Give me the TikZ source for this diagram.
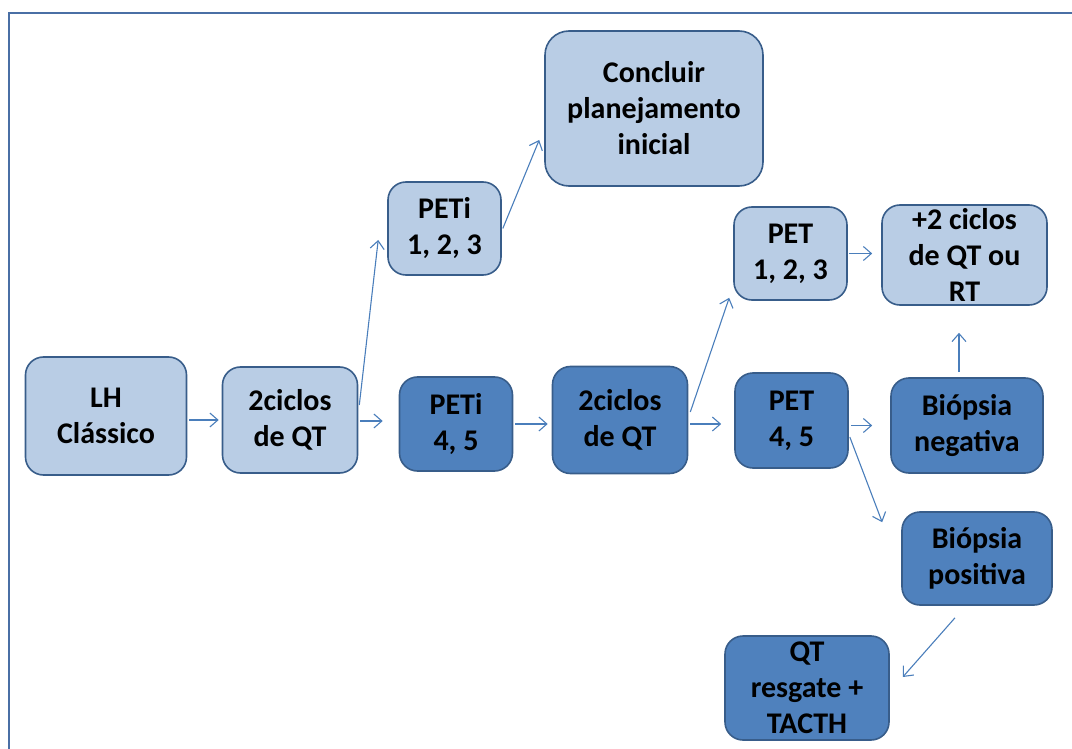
\documentclass[tikz,border=0pt]{standalone}
\usepackage{fontspec}
\setmainfont{Carlito}
\usetikzlibrary{arrows.meta}
\definecolor{lightfill}{HTML}{B9CDE5}
\definecolor{darkfill}{HTML}{4F81BD}
\definecolor{boxline}{HTML}{385D8A}
\definecolor{arrcol}{HTML}{4A7EBB}
\definecolor{framecol}{HTML}{4A6FA5}
\tikzset{
  boxbase/.style={draw=boxline, line width=1.6pt, rounded corners=18pt, inner sep=0pt,
    align=center, text=black, font=\bfseries\fontsize{30}{36}\selectfont},
  lightbox/.style={boxbase, fill=lightfill},
  darkbox/.style={boxbase, fill=darkfill},
  arr/.style={draw=arrcol, line width=1.1pt, -{Straight Barb[length=8pt,width=14pt,line width=1.1pt]}}
}
\begin{document}
\begin{tikzpicture}[x=1pt,y=-1pt]
\useasboundingbox (0,0) rectangle (1072,749);
\draw[framecol, line width=2.6pt] (9,749) -- (9,13) -- (1072,13);

\node[lightbox, minimum width=161pt, minimum height=118pt] (lh) at (106,416) {LH\\Clássico};
\node[lightbox, minimum width=135pt, minimum height=106pt] (c1) at (290,420) {2ciclos\\de QT};
\node[lightbox, minimum width=113pt, minimum height=93pt] (p1) at (444.5,228.5) {PETi\\1, 2, 3};
\node[lightbox, minimum width=218pt, minimum height=155pt, rounded corners=24pt] (conc) at (654,108.5) {Concluir\\planejamento\\inicial};
\node[darkbox, minimum width=113pt, minimum height=94pt] (p2) at (456,424) {PETi\\4, 5};
\node[darkbox, minimum width=135pt, minimum height=107pt] (c2) at (620,420) {2ciclos\\de QT};
\node[lightbox, minimum width=113pt, minimum height=93pt] (q1) at (790.5,253.5) {PET\\1, 2, 3};
\node[darkbox, minimum width=113pt, minimum height=95pt] (q2) at (791.5,420.5) {PET\\4, 5};
\node[lightbox, minimum width=165pt, minimum height=100pt] (plus) at (964.5,255) {+2 ciclos\\de QT ou\\RT};
\node[darkbox, minimum width=152pt, minimum height=95pt] (neg) at (967,425.5) {Biópsia\\negativa};
\node[darkbox, minimum width=150pt, minimum height=93pt] (pos) at (977,558.5) {Biópsia\\positiva};
\node[darkbox, minimum width=164pt, minimum height=104pt] (qt) at (807,688) {QT\\resgate +\\TACTH};

\draw[arr, shorten <=2pt, shorten >=3pt] (lh.east |- c1) -- (c1.west);
\draw[arr, shorten <=2pt, shorten >=16pt] ([yshift=-1pt]c1.east) -- ([yshift=-1pt]c1.east -| p2.west);
\draw[arr] ([xshift=1pt,yshift=15pt]c1.east) -- ([xshift=-9pt,yshift=-11.5pt]p1.west);
\draw[arr] ([xshift=1pt]p1.east) -- ([xshift=-5pt,yshift=-31.5pt]conc.west);
\draw[arr, shorten <=2pt, shorten >=4pt] (p2.east) -- (p2.east -| c2.west);
\draw[arr, shorten <=2pt, shorten >=13pt] ([yshift=-4pt]c2.east) -- ([yshift=-4pt]c2.east -| q2.west);
\draw[arr] ([xshift=2pt,yshift=8pt]c2.east) -- ([xshift=-4pt,yshift=3pt]q1.south west);
\draw[arr, shorten <=1pt, shorten >=9pt] (q1.east) -- (q1.east -| plus.west);
\draw[arr, shorten <=2pt, shorten >=18pt] (q2.east |- neg) -- (neg.west);
\draw[arr] ([xshift=1pt,yshift=-16.5pt]q2.east) -- ([xshift=-19pt,yshift=-11pt]pos.north west);
\draw[arr, shorten <=5pt, shorten >=27pt] ([xshift=-8pt]neg.north) -- ([xshift=-8pt]neg.north |- plus.south);
\draw[arr] ([xshift=-22pt,yshift=-12pt]pos.south) -- ([xshift=13pt,yshift=11pt]qt.east);
\end{tikzpicture}
\end{document}
